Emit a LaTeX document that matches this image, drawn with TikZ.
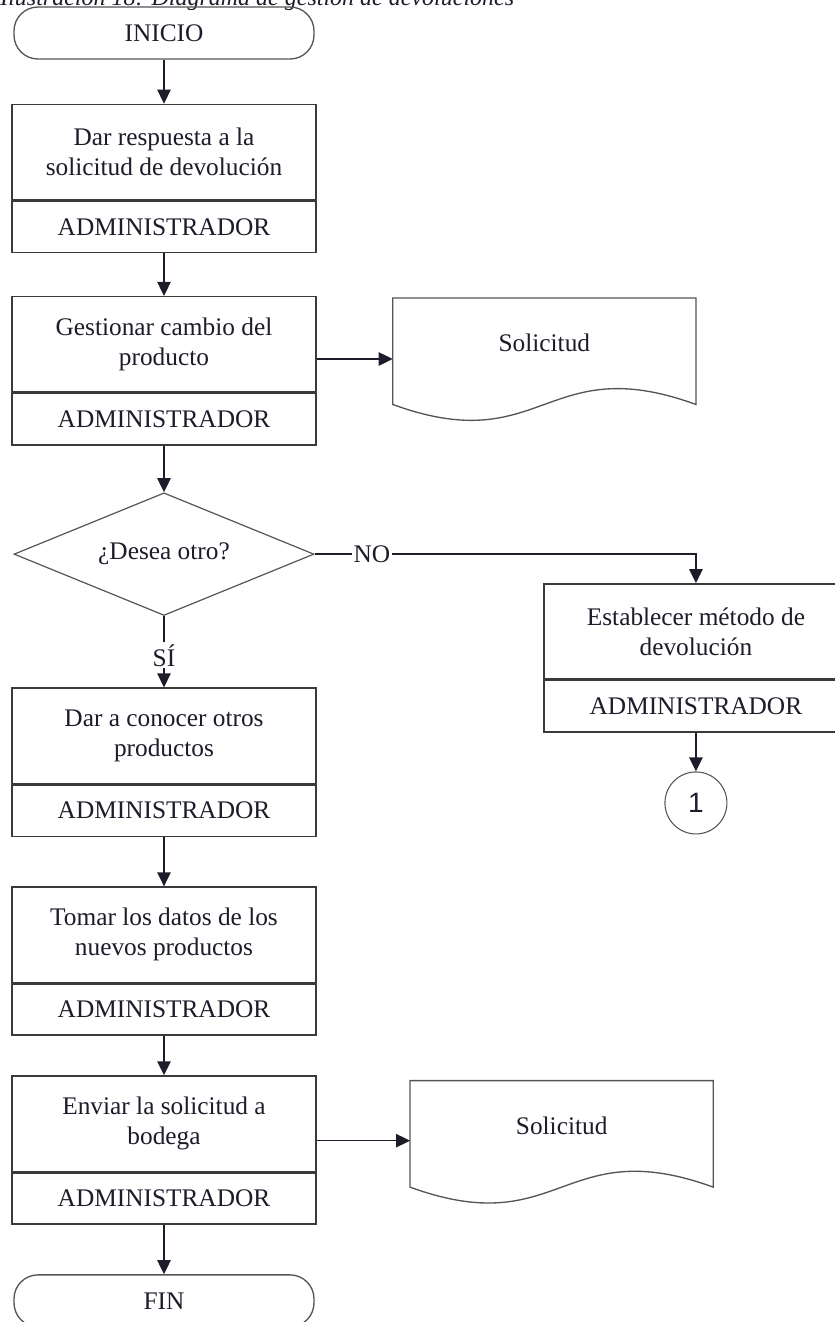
\documentclass[tikz,border=0pt]{standalone}
\usepackage{fontspec}
\setmainfont{Liberation Serif}
\newfontfamily\digitfont{Liberation Sans}
\usetikzlibrary{arrows.meta,positioning,calc,shapes.geometric}
\definecolor{Ink}{HTML}{1C1C2A}
\definecolor{Line}{HTML}{3A3A3A}
\definecolor{Soft}{HTML}{555555}
\tikzset{
  task/.style={draw=Line,line width=1.1pt,fill=white,minimum width=228pt,minimum height=71.5pt,inner sep=0pt,align=center,text=Ink,font=\fontsize{19}{22.5}\selectfont},
  role/.style={task,minimum height=38.5pt},
  term/.style={draw=Soft,line width=1pt,rounded corners=18pt,minimum width=225pt,minimum height=39pt,inner sep=0pt,text=Ink,font=\fontsize{19}{22.5}\selectfont},
  decision/.style={draw=Soft,line width=0.9pt,diamond,aspect=2.4,minimum width=225pt,minimum height=92pt,inner sep=0pt,text=Ink,font=\fontsize{19}{22.5}\selectfont},
  docbox/.style={minimum width=227pt,minimum height=79.5pt,inner sep=0pt,text height=13pt,text depth=12pt,text=Ink,font=\fontsize{19}{22.5}\selectfont},
  docline/.style={draw=Soft,line width=1pt},
  link/.style={circle,draw=Soft,line width=0.8pt,minimum size=46.5pt,inner sep=0pt,text=Ink,font=\digitfont\fontsize{21}{24}\selectfont},
  tag/.style={fill=white,inner sep=1.5pt,text=Ink,font=\fontsize{19}{22.5}\selectfont},
  arr/.style={-{Triangle[length=10.5pt,width=10pt]},draw=Ink,line width=1.1pt}
}

\begin{document}
\begin{tikzpicture}[x=0.75pt,y=-0.75pt]
  \useasboundingbox (0,0) rectangle (835,1322);
  \node[anchor=base west,inner sep=0pt,text=Ink,font=\itshape\fontsize{18}{20}\selectfont] (caption) at (0,5) {Ilustración 18: Diagrama de gestión de devoluciones};
  % main column
  \node[term] (start) at (164,33) {INICIO};
  \node[task,below=33pt of start] (t1) {Dar respuesta a la\\solicitud de devolución};
  \node[role,below=0pt of t1] (r1) {ADMINISTRADOR};
  \node[task,below=32pt of r1] (t2) {Gestionar cambio del\\producto};
  \node[role,below=0pt of t2] (r2) {ADMINISTRADOR};
  \node[decision,below=35pt of r2] (dec) {¿Desea otro?};
  \node[task,below=53.5pt of dec] (t3) {Dar a conocer otros\\productos};
  \node[role,below=0pt of t3] (r3) {ADMINISTRADOR};
  \node[task,below=37pt of r3] (t4) {Tomar los datos de los\\nuevos productos};
  \node[role,below=0pt of t4] (r4) {ADMINISTRADOR};
  \node[task,below=29.5pt of r4] (t5) {Enviar la solicitud a\\bodega};
  \node[role,below=0pt of t5] (r5) {ADMINISTRADOR};
  \node[term,below=37pt of r5] (stop) {FIN};
  % documents and the NO branch
  \node[docbox,below right=1.5pt and 57pt of t2.north east] (doc1) {Solicitud};
  \node[docbox,below right=4pt and 70pt of t5.north east] (doc2) {Solicitud};
  \node[task,below=134pt of doc1.south east] (t6) {Establecer método de\\devolución};
  \node[role,below=0pt of t6] (r6) {ADMINISTRADOR};
  \node[link,below=29pt of r6] (c1) {1};
  \foreach \d in {doc1,doc2}
    \draw[docline] (\d.south west) -- (\d.north west) -- (\d.north east) -- (\d.south east)
      .. controls ($(\d.south east)+(-151,-55)$) and ($(\d.south west)+(151,55)$) .. (\d.south west) -- cycle;
  % connectors
  \draw[arr] (start) -- (t1);
  \draw[arr] (r1) -- (t2);
  \draw[arr] (r2) -- (dec);
  \draw[arr] (dec) -- node[tag,pos=0.55]{SÍ} (t3);
  \draw[arr] (r3) -- (t4);
  \draw[arr] (r4) -- (t5);
  \draw[arr] (r5) -- (stop);
  \draw[arr] ([yshift=-11pt]t2.east) -- ([yshift=-11pt]t2.east -| doc1.west);
  \draw[arr] ([yshift=-12.75pt]t5.east) -- ([yshift=-12.75pt]t5.east -| doc2.west);
  \draw[arr] (dec.east) -- node[tag,pos=0.15]{NO} (dec.east -| t6.north) -- (t6.north);
  \draw[arr] (r6) -- (c1);
\end{tikzpicture}
\end{document}
